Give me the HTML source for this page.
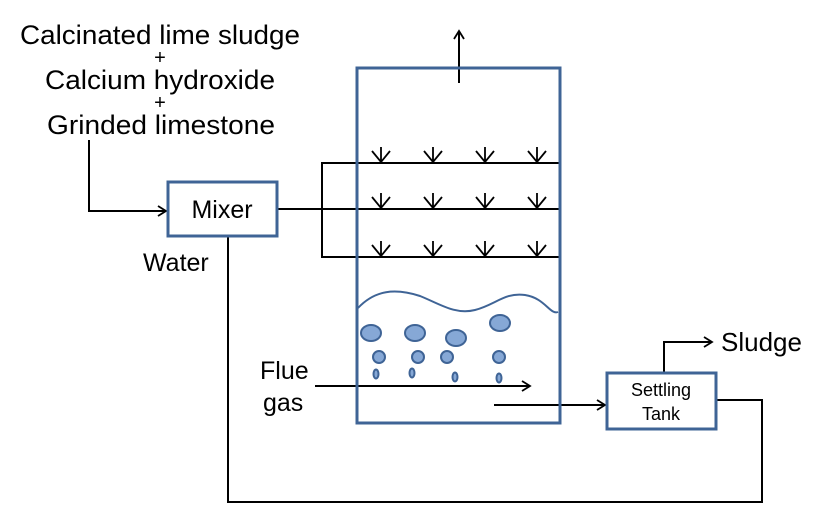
<!DOCTYPE html>
<html><head><style>body{margin:0;background:#fff}svg{display:block}</style></head>
<body>
<svg width="815" height="518" viewBox="0 0 815 518" xmlns="http://www.w3.org/2000/svg" font-family="Liberation Sans, sans-serif">
<defs><marker id="a" markerWidth="12" markerHeight="12" refX="10" refY="6" orient="auto" markerUnits="userSpaceOnUse"><path d="M2,1 L10,6 L2,11" fill="none" stroke="#000" stroke-width="1.8"/></marker></defs>
<g font-size="27" fill="#000">
<text x="20" y="44" textLength="280" lengthAdjust="spacingAndGlyphs">Calcinated lime sludge</text>
<text x="160" y="64" font-size="20" text-anchor="middle">+</text>
<text x="45" y="89" textLength="230" lengthAdjust="spacingAndGlyphs">Calcium hydroxide</text>
<text x="160" y="109" font-size="20" text-anchor="middle">+</text>
<text x="47" y="134" textLength="228" lengthAdjust="spacingAndGlyphs">Grinded limestone</text>
<text x="143" y="271" font-size="25">Water</text>
<text x="260" y="379" font-size="25">Flue</text>
<text x="263" y="411" font-size="25">gas</text>
<text x="721" y="351" font-size="26">Sludge</text>
</g>
<g fill="none" stroke="#000" stroke-width="2">
<polyline points="89,140 89,211 166,211" marker-end="url(#a)"/>
<line x1="277" y1="209" x2="322" y2="209"/>
<polyline points="560,163 322,163 322,257 560,257"/>
<line x1="322" y1="209" x2="560" y2="209"/>
<line x1="459" y1="83" x2="459" y2="31" marker-end="url(#a)"/>
<line x1="315" y1="386" x2="530" y2="386" marker-end="url(#a)"/>
<line x1="494" y1="405" x2="605" y2="405" marker-end="url(#a)"/>
<polyline points="664,373 664,342 712,342" marker-end="url(#a)"/>
<polyline points="716,400 762,400 762,502 228,502 228,236"/>
</g>
<g fill="none" stroke="#000" stroke-width="1.8">
<path d="M381,147V162M372,151L381,162L390,151M433,147V162M424,151L433,162L442,151M485,147V162M476,151L485,162L494,151M537,147V162M528,151L537,162L546,151"/>
<path d="M381,193V208M372,197L381,208L390,197M433,193V208M424,197L433,208L442,197M485,193V208M476,197L485,208L494,197M537,193V208M528,197L537,208L546,197"/>
<path d="M381,241V256M372,245L381,256L390,245M433,241V256M424,245L433,256L442,245M485,241V256M476,245L485,256L494,245M537,241V256M528,245L537,256L546,245"/>
</g>
<g stroke="#3f6496" stroke-width="3" fill="#fff">
<rect x="357" y="68" width="203" height="355" fill="none"/>
<rect x="168" y="182" width="109" height="54"/>
<rect x="607" y="373" width="109" height="56"/>
</g>
<path d="M358,308 C375,290 395,288 420,296 C440,304 455,315 475,310 C495,305 505,292 525,295 C545,298 550,315 558,312" fill="none" stroke="#3f6496" stroke-width="2"/>
<g fill="#86a8d6" stroke="#3f6496" stroke-width="2">
<ellipse cx="371" cy="333" rx="10" ry="8"/><ellipse cx="415" cy="333" rx="10" ry="8"/><ellipse cx="456" cy="338" rx="10" ry="8"/><ellipse cx="500" cy="323" rx="10" ry="8"/>
<circle cx="379" cy="357" r="6"/><circle cx="418" cy="357" r="6"/><circle cx="447" cy="357" r="6"/><circle cx="499" cy="357" r="6"/>
<ellipse cx="376" cy="374" rx="2.5" ry="4.5"/><ellipse cx="412" cy="373" rx="2.5" ry="4.5"/><ellipse cx="455" cy="377" rx="2.5" ry="4.5"/><ellipse cx="499" cy="378" rx="2.5" ry="4.5"/>
</g>
<text x="222" y="218" font-size="25" text-anchor="middle">Mixer</text>
<text x="661" y="396" font-size="18" text-anchor="middle">Settling</text>
<text x="661" y="420" font-size="18" text-anchor="middle">Tank</text>
</svg>
</body></html>
